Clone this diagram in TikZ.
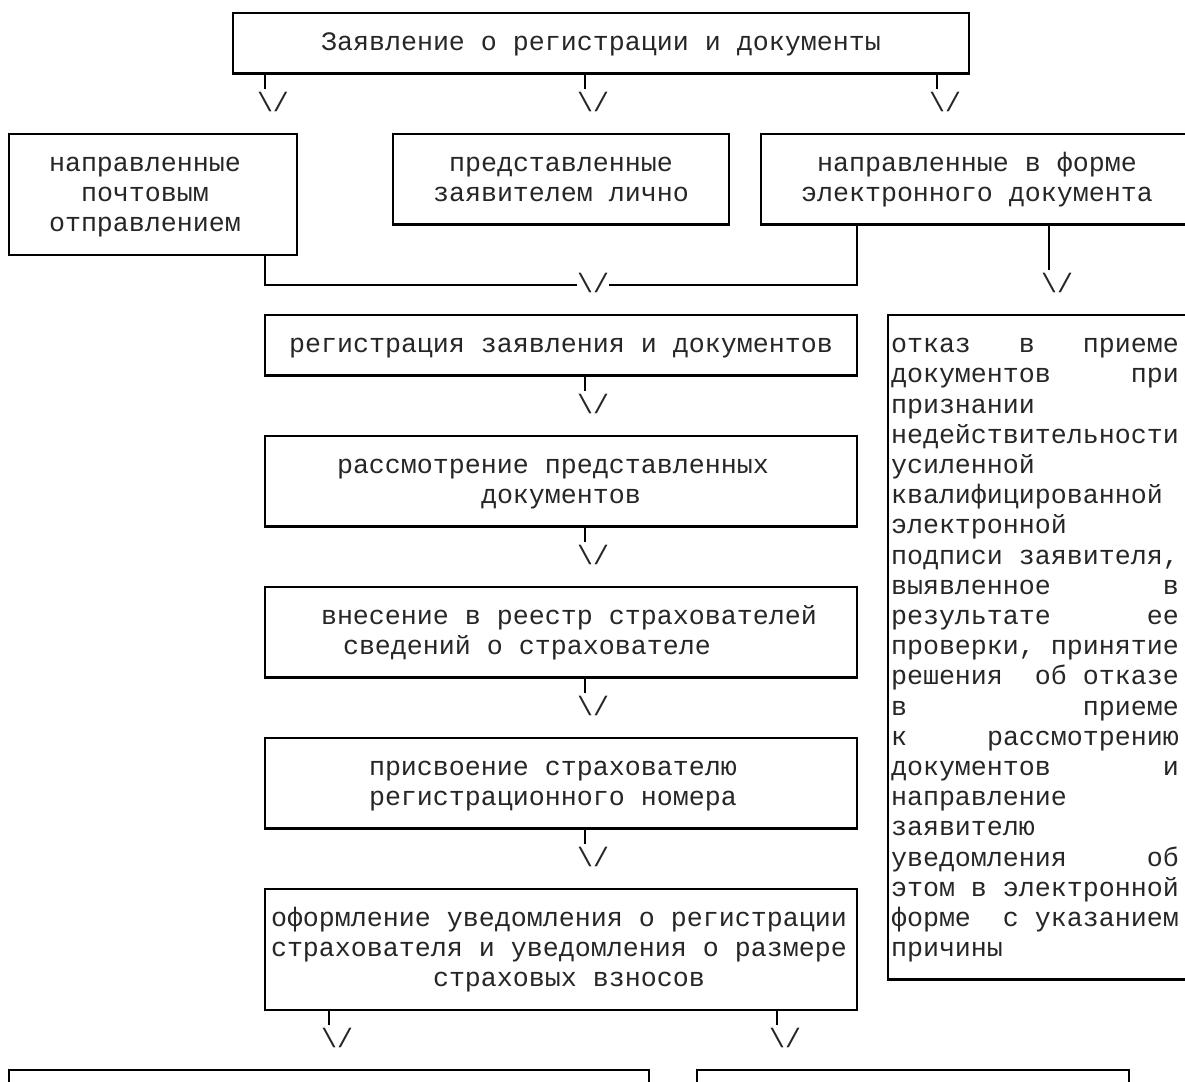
\documentclass[tikz,border=0pt]{standalone}
\usepackage{fontspec}
\newfontfamily\mono{Liberation Mono}
\frenchspacing
\tikzset{
  box/.style={draw, line width=2.2pt, inner sep=0pt, outer sep=0pt, anchor=north west},
  txt/.style={font=\mono\fontsize{26.66}{30.2}\selectfont, text=black!85, inner sep=0pt, outer sep=0pt, anchor=base west},
  ctxt/.style={txt, anchor=base},
  link/.style={line width=2.2pt},
}
\begin{document}
\begin{tikzpicture}[x=1pt,y=-1pt]
\useasboundingbox (0,0) rectangle (1185,1081);
\clip (0,0) rectangle (1185,1081);

% boxes
\node[box, minimum width=736pt, minimum height=60.4pt] (top) at (233,13) {};
\node[box, minimum width=288pt, minimum height=120.8pt] (L) at (9,133.8) {};
\node[box, minimum width=336pt, minimum height=90.6pt] (M) at (393,133.8) {};
\node[box, minimum width=432pt, minimum height=90.6pt] (R) at (761,133.8) {};
\node[box, minimum width=592pt, minimum height=60.4pt] (reg) at (265,315) {};
\node[box, minimum width=592pt, minimum height=90.6pt] (ras) at (265,435.8) {};
\node[box, minimum width=592pt, minimum height=90.6pt] (vn) at (265,586.8) {};
\node[box, minimum width=592pt, minimum height=90.6pt] (pr) at (265,737.8) {};
\node[box, minimum width=592pt, minimum height=120.8pt] (of) at (265,888.8) {};
\node[box, minimum width=305pt, minimum height=664.4pt] (tall) at (888,315) {};
\node[box, minimum width=640pt, minimum height=80pt] (BL) at (9,1070) {};
\node[box, minimum width=432pt, minimum height=80pt] (BR) at (697,1070) {};

% texts
\node[ctxt] (t0) at (601,50.7) {Заявление о регистрации и документы};
\node[ctxt] (tL1) at (145,171.5) {направленные};
\node[ctxt] (tL2) at (145,201.7) {почтовым};
\node[ctxt] (tL3) at (145,231.9) {отправлением};
\node[ctxt] (tM1) at (561,171.5) {представленные};
\node[ctxt] (tM2) at (561,201.7) {заявителем лично};
\node[ctxt] (tR1) at (977,171.5) {направленные в форме};
\node[ctxt] (tR2) at (977,201.7) {электронного документа};
\node[ctxt] (treg) at (561,352.7) {регистрация заявления и документов};
\node[txt] (tras1) at (337,473.5) {рассмотрение представленных};
\node[txt] (tras2) at (481,503.7) {документов};
\node[txt] (tvn1) at (321,624.5) {внесение в реестр страхователей};
\node[txt] (tvn2) at (343,654.7) {сведений о страхователе};
\node[txt] (tpr1) at (369,775.5) {присвоение страхователю};
\node[txt] (tpr2) at (369,805.7) {регистрационного номера};
\node[txt] (tof1) at (271,926.5) {оформление уведомления о регистрации};
\node[txt] (tof2) at (271,956.7) {страхователя и уведомления о размере};
\node[txt] (tof3) at (433,986.9) {страховых взносов};

\foreach \s [count=\i] in {
  {отказ~~~в~~~приеме},
  {документов~~~~~при},
  {признании},
  {недействительности},
  {усиленной},
  {квалифицированной},
  {электронной},
  {подписи~заявителя,},
  {выявленное~~~~~~~в},
  {результате~~~~~~ее},
  {проверки,~принятие},
  {решения~~об~отказе},
  {в~~~~~~~~~~~приеме},
  {к~~~~~рассмотрению},
  {документов~~~~~~~и},
  {направление},
  {заявителю},
  {уведомления~~~~~об},
  {этом~в~электронной},
  {форме~~с~указанием},
  {причины}}
  \node[txt] (k\i) at (891,{352.7+30.2*(\i-1)}) {\s};

% arrow heads drawn as text
\node[txt] (a1) at (257,111.1) {\textbackslash/};
\node[txt] (a2) at (577,111.1) {\textbackslash/};
\node[txt] (a3) at (929,111.1) {\textbackslash/};
\node[txt] (a4) at (577,292.3) {\textbackslash/};
\node[txt] (a5) at (1041,292.3) {\textbackslash/};
\node[txt] (a6) at (577,413.1) {\textbackslash/};
\node[txt] (a7) at (577,564.1) {\textbackslash/};
\node[txt] (a8) at (577,715.1) {\textbackslash/};
\node[txt] (a9) at (577,866.1) {\textbackslash/};
\node[txt] (a10) at (321,1047.3) {\textbackslash/};
\node[txt] (a11) at (769,1047.3) {\textbackslash/};

% connectors
\coordinate (j1) at (577,284.8);
\coordinate (j2) at (609,284.8);
\draw[link] ([xshift=32pt]top.south west) -- ++(0,15.1);
\draw[link] ([xshift=352pt]top.south west) -- ++(0,15.1);
\draw[link] ([xshift=704pt]top.south west) -- ++(0,15.1);
\draw[link] ([xshift=256pt]L.south west) |- (j1);
\draw[link] ([xshift=96pt]R.south west) |- (j2);
\draw[link] ([xshift=288pt]R.south west) -- ++(0,45.3);
\draw[link] ([xshift=320pt]reg.south west) -- ++(0,15.1);
\draw[link] ([xshift=320pt]ras.south west) -- ++(0,15.1);
\draw[link] ([xshift=320pt]vn.south west) -- ++(0,15.1);
\draw[link] ([xshift=320pt]pr.south west) -- ++(0,15.1);
\draw[link] ([xshift=64pt]of.south west) -- ++(0,15.1);
\draw[link] ([xshift=512pt]of.south west) -- ++(0,15.1);
\end{tikzpicture}
\end{document}
